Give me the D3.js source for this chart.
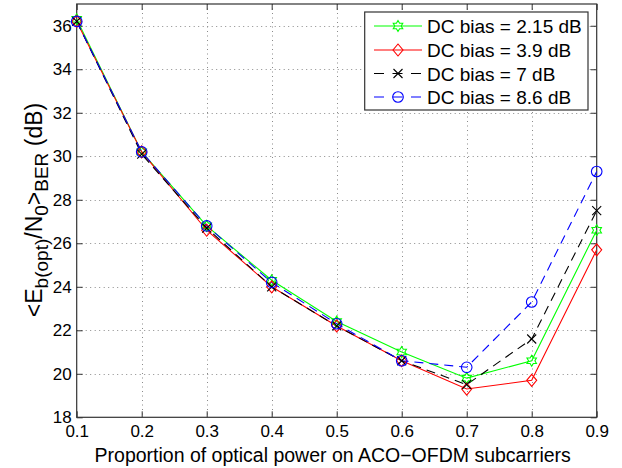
<!DOCTYPE html>
<html>
  <head>
    <meta charset="UTF-8" />
    <style>
      body { margin: 0; background: #fff; }
      text { font-family: "Liberation Sans", Arial, sans-serif; fill: #000; }
    </style>
  </head>
  <body>
    <script src="https://cdn.jsdelivr.net/npm/d3@7/dist/d3.min.js"></script>
    <script>
      // values
      var proportion = [0.1, 0.2, 0.3, 0.4, 0.5, 0.6, 0.7, 0.8, 0.9];
      var bias215 = [36.3, 30.2, 26.8, 24.3, 22.4, 21.0, 19.8, 20.6, 26.6];
      var bias39  = [36.2, 30.2, 26.6, 24.0, 22.2, 20.6, 19.3, 19.7, 25.7];
      var bias7   = [36.2, 30.1, 26.7, 24.0, 22.2, 20.6, 19.5, 21.6, 27.5];
      var bias86  = [36.2, 30.2, 26.8, 24.2, 22.3, 20.6, 20.3, 23.3, 29.3];
      var seriesNames = ["DC bias = 2.15 dB", "DC bias = 3.9 dB", "DC bias = 7 dB", "DC bias = 8.6 dB"];
      var xTicks = [0.1, 0.2, 0.3, 0.4, 0.5, 0.6, 0.7, 0.8, 0.9];
      var yTicks = [18, 20, 22, 24, 26, 28, 30, 32, 34, 36];

      var series = [
        { name: seriesNames[0], values: bias215, colour: "#00ff00", dash: null, marker: "hexagram" },
        { name: seriesNames[1], values: bias39, colour: "#ff0000", dash: null, marker: "diamond" },
        { name: seriesNames[2], values: bias7, colour: "#000000", dash: "9,6", marker: "cross" },
        { name: seriesNames[3], values: bias86, colour: "#0000ff", dash: "9,6", marker: "circle" }
      ];

      var width = 622, height = 468;
      var pLeft = 76.7, pRight = 596.7, pTop = 4, pBottom = 417.3;

      var x = d3.scaleLinear().domain([0.1, 0.9]).range([pLeft, pRight]);
      var y = d3.scaleLinear().domain([18, 37]).range([pBottom, pTop]);

      var svg = d3.select("body").append("svg")
        .attr("width", width)
        .attr("height", height);

      svg.append("rect").attr("width", width).attr("height", height).attr("fill", "#fff");

      // grid
      var grid = svg.append("g").attr("stroke", "#8a8a8a").attr("stroke-width", 1)
        .attr("stroke-dasharray", "1,3.5");
      grid.selectAll(".gx").data(xTicks.slice(1, -1)).enter().append("line")
        .attr("x1", function(d) { return Math.round(x(d)) + 0.5; })
        .attr("x2", function(d) { return Math.round(x(d)) + 0.5; })
        .attr("y1", pTop).attr("y2", pBottom);
      grid.selectAll(".gy").data(yTicks.slice(1)).enter().append("line")
        .attr("y1", function(d) { return Math.round(y(d)) + 0.5; })
        .attr("y2", function(d) { return Math.round(y(d)) + 0.5; })
        .attr("x1", pLeft).attr("x2", pRight);

      // axes (ticks pointing inside, on all four sides)
      var tickLen = 6;
      var xAxisB = d3.axisBottom(x).tickValues(xTicks).tickSizeInner(-tickLen).tickSizeOuter(0)
        .tickFormat(d3.format(".1f")).tickPadding(8);
      var xAxisT = d3.axisTop(x).tickValues(xTicks).tickSizeInner(-tickLen).tickSizeOuter(0).tickFormat("");
      var yAxisL = d3.axisLeft(y).tickValues(yTicks).tickSizeInner(-tickLen).tickSizeOuter(0).tickPadding(5);
      var yAxisR = d3.axisRight(y).tickValues(yTicks).tickSizeInner(-tickLen).tickSizeOuter(0).tickFormat("");

      function styleAxis(g) {
        g.select(".domain").remove();
        g.selectAll(".tick line").attr("stroke", "#333");
        g.selectAll(".tick text").attr("font-size", 17).attr("fill", "#111")
          .attr("font-family", "Liberation Sans, Arial, sans-serif");
      }
      svg.append("g").attr("transform", "translate(0," + pBottom + ")").call(xAxisB).call(styleAxis);
      svg.append("g").attr("transform", "translate(0," + pTop + ")").call(xAxisT).call(styleAxis);
      svg.append("g").attr("transform", "translate(" + pLeft + ",0)").call(yAxisL).call(styleAxis);
      svg.append("g").attr("transform", "translate(" + pRight + ",0)").call(yAxisR).call(styleAxis);

      svg.append("rect")
        .attr("x", pLeft).attr("y", pTop)
        .attr("width", pRight - pLeft).attr("height", pBottom - pTop)
        .attr("fill", "none").attr("stroke", "#333").attr("stroke-width", 1.2);

      // marker shapes
      function markerPath(kind) {
        if (kind === "hexagram") {
          var pts = [];
          for (var k = 0; k < 12; k++) {
            var r = (k % 2 === 0) ? 5.5 : 3.2;
            var a = Math.PI / 2 + k * Math.PI / 6;
            pts.push([r * Math.cos(a), -r * Math.sin(a)]);
          }
          return "M" + pts.map(function(p) { return p[0].toFixed(2) + "," + p[1].toFixed(2); }).join("L") + "Z";
        }
        if (kind === "diamond") return "M0,-6L5,0L0,6L-5,0Z";
        if (kind === "cross") return "M-4.5,-4.5L4.5,4.5M-4.5,4.5L4.5,-4.5";
        return d3.symbol(d3.symbolCircle, Math.PI * 5.3 * 5.3)();
      }

      var line = d3.line()
        .x(function(d, i) { return x(proportion[i]); })
        .y(function(d) { return y(d); });

      var plot = svg.append("g");
      series.forEach(function(s) {
        plot.append("path")
          .attr("d", line(s.values))
          .attr("fill", "none")
          .attr("stroke", s.colour)
          .attr("stroke-width", 1.1)
          .attr("stroke-dasharray", s.dash);
      });
      series.forEach(function(s) {
        plot.selectAll(null).data(s.values).enter().append("path")
          .attr("transform", function(d, i) { return "translate(" + x(proportion[i]) + "," + y(d) + ")"; })
          .attr("d", markerPath(s.marker))
          .attr("fill", "none")
          .attr("stroke", s.colour)
          .attr("stroke-width", 1.1);
      });

      // legend
      var legend = svg.append("g");
      legend.append("rect")
        .attr("x", 364.7).attr("y", 12)
        .attr("width", 588 - 364.7).attr("height", 98)
        .attr("fill", "#fff").attr("stroke", "#333").attr("stroke-width", 1.2);
      var rowY = [26, 50, 73.5, 97];
      series.forEach(function(s, i) {
        var g = legend.append("g").attr("transform", "translate(0," + rowY[i] + ")");
        g.append("line").attr("x1", 374).attr("x2", 422).attr("y1", 0).attr("y2", 0)
          .attr("stroke", s.colour).attr("stroke-width", 1.1)
          .attr("stroke-dasharray", s.dash ? "10,8.5" : null);
        g.append("path").attr("transform", "translate(398,0)")
          .attr("d", markerPath(s.marker))
          .attr("fill", "none").attr("stroke", s.colour).attr("stroke-width", 1.1);
        g.append("text").attr("x", 427).attr("y", 7)
          .attr("font-size", 19).text(s.name);
      });

      // axis labels
      svg.append("text")
        .attr("x", (pLeft + pRight) / 2 - 4).attr("y", 462)
        .attr("text-anchor", "middle").attr("font-size", 19.5)
        .text("Proportion of optical power on ACO\u2212OFDM subcarriers");

      var yl = svg.append("text")
        .attr("transform", "translate(42,210) rotate(-90)")
        .attr("text-anchor", "middle").attr("font-size", 23);
      yl.append("tspan").text("<E");
      yl.append("tspan").attr("font-size", 19).attr("dy", 6).text("b(opt)");
      yl.append("tspan").attr("dy", -6).text("/N");
      yl.append("tspan").attr("font-size", 19).attr("dy", 6).text("0");
      yl.append("tspan").attr("dy", -6).text(">");
      yl.append("tspan").attr("font-size", 19).attr("dy", 6).text("BER");
      yl.append("tspan").attr("dy", -6).text(" (dB)");
    </script>
  </body>
</html>
